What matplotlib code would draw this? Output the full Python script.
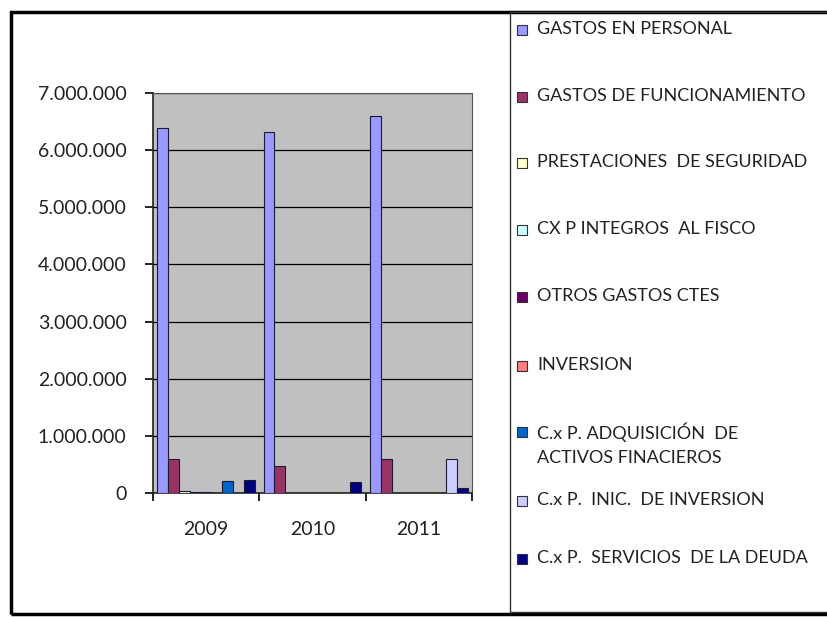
import matplotlib.pyplot as plt
from matplotlib.patches import Rectangle
from matplotlib.ticker import FuncFormatter
import numpy as np

years = ["2009", "2010", "2011"]

series_names = [
    "GASTOS EN PERSONAL",
    "GASTOS DE FUNCIONAMIENTO",
    "PRESTACIONES  DE SEGURIDAD",
    "CX P INTEGROS  AL FISCO",
    "OTROS GASTOS CTES",
    "INVERSION",
    "C.x P. ADQUISICIÓN  DE\nACTIVOS FINACIEROS",
    "C.x P.  INIC.  DE INVERSION",
    "C.x P.  SERVICIOS  DE LA DEUDA",
]

gastos_personal = [6380000, 6310000, 6590000]
gastos_funcionamiento = [590000, 470000, 590000]
prestaciones = [30000, 0, 0]
cxp_integros = [25000, 0, 0]
otros_gastos = [15000, 0, 0]
inversion = [5000, 0, 0]
adquisicion_activos = [210000, 0, 0]
inic_inversion = [0, 0, 600000]
servicios_deuda = [230000, 190000, 90000]

values = [gastos_personal, gastos_funcionamiento, prestaciones, cxp_integros,
          otros_gastos, inversion, adquisicion_activos, inic_inversion, servicios_deuda]

# Excel 2003 default chart palette
colors = ["#9999FF", "#993366", "#FFFFCC", "#CCFFFF", "#660066",
          "#FF8080", "#0066CC", "#CCCCFF", "#000080"]

font = "Lato"
W, H = 827.0, 617.0

fig = plt.figure(figsize=(8.27, 6.17), dpi=100)

# outer chart frame and legend box
fig.patches.append(Rectangle((11 / W, 3 / H), 830 / W, 602 / H, transform=fig.transFigure,
                             fill=False, edgecolor="black", linewidth=2.5))
fig.patches.append(Rectangle((510 / W, 5 / H), 330 / W, 600 / H, transform=fig.transFigure,
                             fill=False, edgecolor="#333333", linewidth=1.0))

ax = fig.add_axes([153 / W, 1 - 493 / H, (472 - 153) / W, (493 - 93) / H])
ax.set_facecolor("#C0C0C0")

x = np.arange(len(years))
width = 0.102
start = -0.46
for i in range(len(series_names)):
    ax.bar(x + start + i * width + width / 2, values[i], width=width, color=colors[i],
           edgecolor="#1a1a33", linewidth=0.8, label=series_names[i], zorder=3)

ax.set_xlim(-0.5, 2.5)
ax.set_ylim(0, 7000000)
ax.set_yticks(range(0, 7000001, 1000000))
ax.yaxis.set_major_formatter(FuncFormatter(lambda v, p: "{:,.0f}".format(v).replace(",", ".")))
ax.grid(axis="y", color="black", linewidth=0.9, zorder=1)

ax.set_xticks(x)
ax.set_xticklabels(years, fontsize=14, family=font, color="#222222")
ax.set_xticks([-0.5, 0.5, 1.5, 2.5], minor=True)
ax.tick_params(axis="x", which="major", length=0, pad=20)
ax.tick_params(axis="x", which="minor", length=6, width=1.2)
ax.tick_params(axis="y", length=6, width=1.2, labelsize=14, pad=13)
for lab in ax.get_yticklabels():
    lab.set_family(font)
    lab.set_color("#222222")

ax.spines["top"].set_color("#555555")
ax.spines["right"].set_color("#555555")
ax.spines["left"].set_color("#222222")
ax.spines["bottom"].set_color("#222222")
ax.spines["left"].set_linewidth(1.2)
ax.spines["bottom"].set_linewidth(1.2)

# legend drawn by hand: Excel keeps an even pitch and lets the two-line entry spill down
legend_y = [30, 97, 163, 230, 297, 366, 432, 501, 559]
for i in range(len(series_names)):
    yc = legend_y[i]
    fig.patches.append(Rectangle((517 / W, 1 - (yc + 5) / H), 10 / W, 10 / H,
                                 transform=fig.transFigure, facecolor=colors[i],
                                 edgecolor="#333333", linewidth=0.8))
    fig.text(537 / W, 1 - (yc - 9) / H, series_names[i], family=font, fontsize=13,
             color="#222222", va="top", ha="left", linespacing=1.55)

fig.savefig("out.png", dpi=100)
